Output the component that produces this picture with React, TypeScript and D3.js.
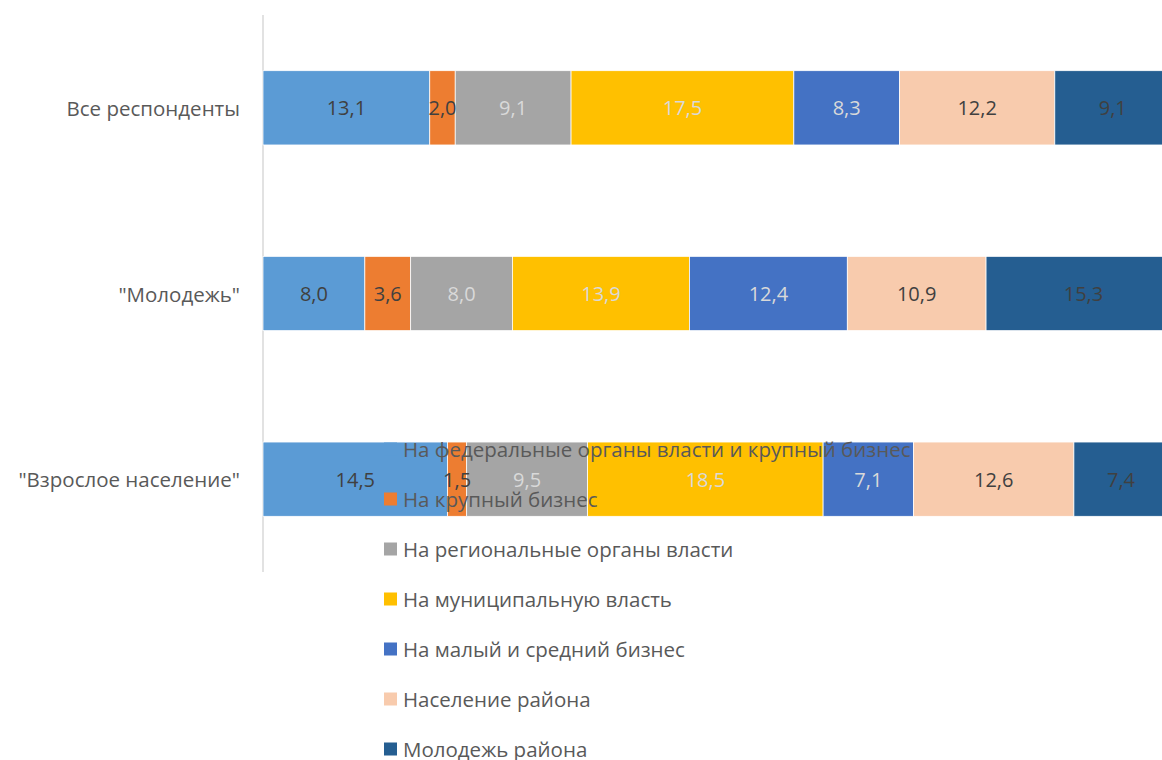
import React from "react";
import * as d3 from "d3";

const categories = ["Все респонденты", "\"Молодежь\"", "\"Взрослое население\""];
const seriesNames = [
  "На федеральные органы власти и крупный бизнес",
  "На крупный бизнес",
  "На региональные органы власти",
  "На муниципальную власть",
  "На малый и средний бизнес",
  "Население района",
  "Молодежь района",
];
const federal = [13.1, 8.0, 14.5];
const bigBusiness = [2.0, 3.6, 1.5];
const regional = [9.1, 8.0, 9.5];
const municipal = [17.5, 13.9, 18.5];
const smallBusiness = [8.3, 12.4, 7.1];
const population = [12.2, 10.9, 12.6];
const youth = [9.1, 15.3, 7.4];

const seriesValues = [federal, bigBusiness, regional, municipal, smallBusiness, population, youth];
const colors = ["#5b9bd5", "#ed7d31", "#a5a5a5", "#ffc000", "#4472c4", "#f8cbad", "#255e91"];
const labelColors = ["#404040", "#404040", "#d9d9d9", "#d9d9d9", "#d9d9d9", "#404040", "#404040"];

const W = 1162;
const H = 760;
const FONT = "'Open Sans', 'Noto Sans', sans-serif";

export default function App() {
  const x = d3.scaleLinear().domain([0, 100]).range([263, 263 + 1273]);
  const y = d3.scaleBand<string>().domain(categories).range([15, 572]).paddingInner(0.6).paddingOuter(0.3);

  const table = categories.map((c, i) => {
    const row: any = { cat: c };
    seriesNames.forEach((s, j) => (row[s] = seriesValues[j][i]));
    return row;
  });
  const stacked = d3.stack<any>().keys(seriesNames)(table);

  const legendX = 384;
  const legendY0 = 449;
  const legendStep = 50;

  return (
    <div style={{ position: "absolute", left: 0, top: 0 }}>
      <svg width={W} height={H} style={{ display: "block", background: "#fff" }}>
        <line x1={263} x2={263} y1={15} y2={572} stroke="#d9d9d9" strokeWidth={1.5} />
        {categories.map((c) => (
          <text
            key={c}
            x={240}
            y={(y(c) as number) + y.bandwidth() / 2}
            textAnchor="end"
            dominantBaseline="central"
            fontFamily={FONT}
            fontSize={20.5}
            fill="#595959"
          >
            {c}
          </text>
        ))}
        {stacked.map((layer, j) => (
          <g key={layer.key}>
            {layer.map((d, i) => (
              <rect
                key={i}
                x={x(d[0])}
                y={y(categories[i])}
                width={x(d[1]) - x(d[0])}
                height={y.bandwidth()}
                fill={colors[j]}
                stroke="#fff"
                strokeWidth={0.75}
              />
            ))}
          </g>
        ))}
        {stacked.map((layer, j) => (
          <g key={"l" + layer.key}>
            {layer.map((d, i) => (
              <text
                key={i}
                x={(x(d[0]) + x(d[1])) / 2}
                y={(y(categories[i]) as number) + y.bandwidth() / 2}
                textAnchor="middle"
                dominantBaseline="central"
                fontFamily={FONT}
                fontSize={20}
                fill={labelColors[j]}
              >
                {d3.format(".1f")(d[1] - d[0]).replace(".", ",")}
              </text>
            ))}
          </g>
        ))}
        {seriesNames.map((s, j) => (
          <g key={"leg" + j} transform={`translate(${legendX},${legendY0 + j * legendStep})`}>
            <rect x={0} y={-6.5} width={13} height={13} fill={colors[j]} />
            <text x={19} y={0} dominantBaseline="central" fontFamily={FONT} fontSize={20.5} fill="#595959">
              {s}
            </text>
          </g>
        ))}
      </svg>
    </div>
  );
}
